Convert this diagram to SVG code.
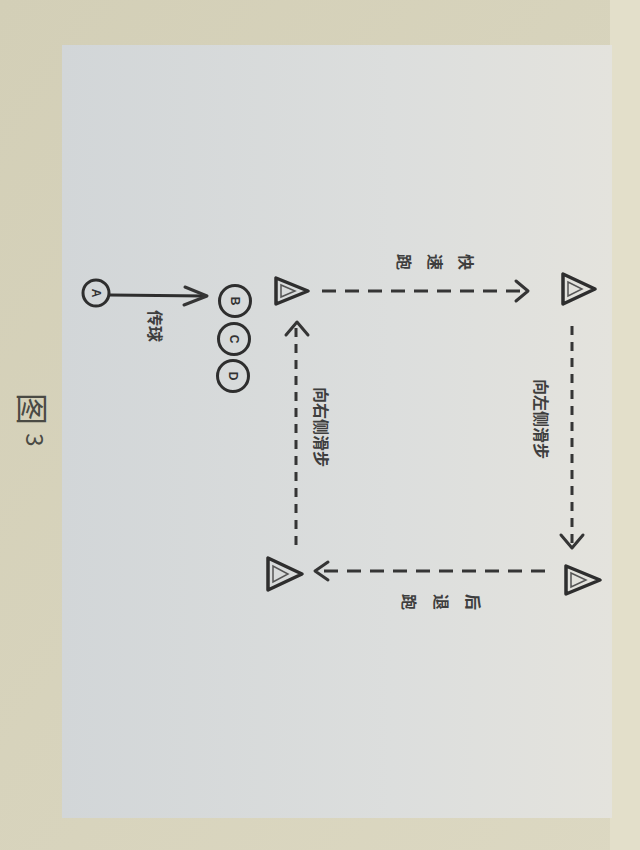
<svg xmlns="http://www.w3.org/2000/svg" width="640" height="850" viewBox="0 0 640 850">
  <defs>
    <linearGradient id="page" x1="0" y1="0" x2="1" y2="0">
      <stop offset="0" stop-color="#d2d6d8"/>
      <stop offset="0.6" stop-color="#dcdedd"/>
      <stop offset="1" stop-color="#e4e3dd"/>
    </linearGradient>
    <linearGradient id="paper" x1="0" y1="0" x2="1" y2="1">
      <stop offset="0" stop-color="#d3cfb7"/>
      <stop offset="1" stop-color="#dcd8c2"/>
    </linearGradient>
  </defs>
  <style>
    .ln{stroke:#353535;stroke-width:3;fill:none;stroke-linecap:butt}
    .dh{stroke-dasharray:14 9}
    .dv{stroke-dasharray:9 7}
    .ah{stroke:#353535;stroke-width:3;fill:none;stroke-linecap:round;stroke-linejoin:round}
    .cone{stroke:#2e2e2e;stroke-width:3.5;fill:none;stroke-linejoin:round}
    .coneIn{stroke:#555;stroke-width:1.5;fill:none}
    .pl{stroke:#2e2e2e;stroke-width:3;fill:none}
    .lbl{font-family:"Noto Sans CJK SC","Noto Sans",sans-serif;font-size:16px;fill:#3e3e3e;font-weight:bold}
    .let{font-family:"Liberation Sans",sans-serif;font-size:12px;fill:#333;font-weight:bold}
    .cap{font-family:"Noto Sans CJK SC","Liberation Sans",sans-serif;fill:#4a4a44}
  </style>

  <!-- background photo -->
  <rect x="0" y="0" width="640" height="850" fill="url(#paper)"/>
  <rect x="610" y="0" width="30" height="850" fill="#e3dfca"/>
  <rect x="62" y="45" width="550" height="773" fill="url(#page)"/>

  <!-- caption -->
  <g id="caption">
    <text class="cap" font-size="32" transform="translate(34,409) rotate(90)" text-anchor="middle" dominant-baseline="central">图</text>
    <text class="cap" font-size="24" transform="translate(36,440) rotate(90)" text-anchor="middle" dominant-baseline="central">3</text>
  </g>

  <!-- connectors -->
  <g id="connectors">
    <!-- fast run: top-left to top-right -->
    <line class="ln dh" x1="322" y1="291" x2="524" y2="291"/>
    <polyline class="ah" points="516,281 528,291 516,301"/>
    <!-- side step left: top-right down to bottom-right -->
    <line class="ln dv" x1="572" y1="326" x2="572" y2="544"/>
    <polyline class="ah" points="561,535 572,548 583,535"/>
    <!-- backward run: bottom-right to bottom-left -->
    <line class="ln dh" x1="545" y1="571" x2="318" y2="571"/>
    <polyline class="ah" points="328,562 315,571 328,580"/>
    <!-- side step right: bottom-left up to top-left -->
    <line class="ln dv" x1="296" y1="545" x2="296" y2="326"/>
    <polyline class="ah" points="286,335 297,322 308,335"/>
    <!-- pass -->
    <line class="pl" x1="110" y1="295" x2="205" y2="296"/>
    <polyline class="ah" points="185,287 207,296 184,305"/>
  </g>

  <!-- cones -->
  <g id="cone-top-left">
    <polygon class="cone" points="276,278 276,304 308,291"/>
    <polygon class="coneIn" points="281,285 281,297 295,291"/>
  </g>
  <g id="cone-top-right">
    <polygon class="cone" points="563,274 563,304 595,289"/>
    <polygon class="coneIn" points="568,282 568,296 582,289"/>
  </g>
  <g id="cone-bottom-left">
    <polygon class="cone" points="268,558 268,590 302,574"/>
    <polygon class="coneIn" points="273,566 273,582 288,574"/>
  </g>
  <g id="cone-bottom-right">
    <polygon class="cone" points="566,566 566,594 600,580"/>
    <polygon class="coneIn" points="571,573 571,587 586,580"/>
  </g>

  <!-- labels -->
  <g id="label-left-slide">
    <text class="lbl" transform="translate(542,419) rotate(90)" text-anchor="middle" dominant-baseline="central">向左侧滑步</text>
  </g>
  <g id="label-right-slide">
    <text class="lbl" transform="translate(322,427) rotate(90)" text-anchor="middle" dominant-baseline="central">向右侧滑步</text>
  </g>
  <g id="label-fast-run">
    <text class="lbl" transform="translate(467,262) rotate(90)" text-anchor="middle" dominant-baseline="central">快</text>
    <text class="lbl" transform="translate(436,262) rotate(90)" text-anchor="middle" dominant-baseline="central">速</text>
    <text class="lbl" transform="translate(405,262) rotate(90)" text-anchor="middle" dominant-baseline="central">跑</text>
  </g>
  <g id="label-back-run">
    <text class="lbl" transform="translate(474,602) rotate(90)" text-anchor="middle" dominant-baseline="central">后</text>
    <text class="lbl" transform="translate(442,602) rotate(90)" text-anchor="middle" dominant-baseline="central">退</text>
    <text class="lbl" transform="translate(410,602) rotate(90)" text-anchor="middle" dominant-baseline="central">跑</text>
  </g>
  <g id="label-pass">
    <text class="lbl" font-size="14" transform="translate(156,326) rotate(90)" text-anchor="middle" dominant-baseline="central">传球</text>
  </g>

  <!-- players -->
  <g id="player-A">
    <circle class="pl" cx="96" cy="293" r="13"/>
    <text class="let" transform="translate(96,293) rotate(90)" text-anchor="middle" dominant-baseline="central">A</text>
  </g>
  <g id="player-B">
    <circle class="pl" cx="235" cy="301" r="15.5"/>
    <text class="let" transform="translate(235,301) rotate(90)" text-anchor="middle" dominant-baseline="central">B</text>
  </g>
  <g id="player-C">
    <circle class="pl" cx="234" cy="339" r="15.5"/>
    <text class="let" transform="translate(234,339) rotate(90)" text-anchor="middle" dominant-baseline="central">C</text>
  </g>
  <g id="player-D">
    <circle class="pl" cx="233" cy="376" r="15.5"/>
    <text class="let" transform="translate(233,376) rotate(90)" text-anchor="middle" dominant-baseline="central">D</text>
  </g>
</svg>
